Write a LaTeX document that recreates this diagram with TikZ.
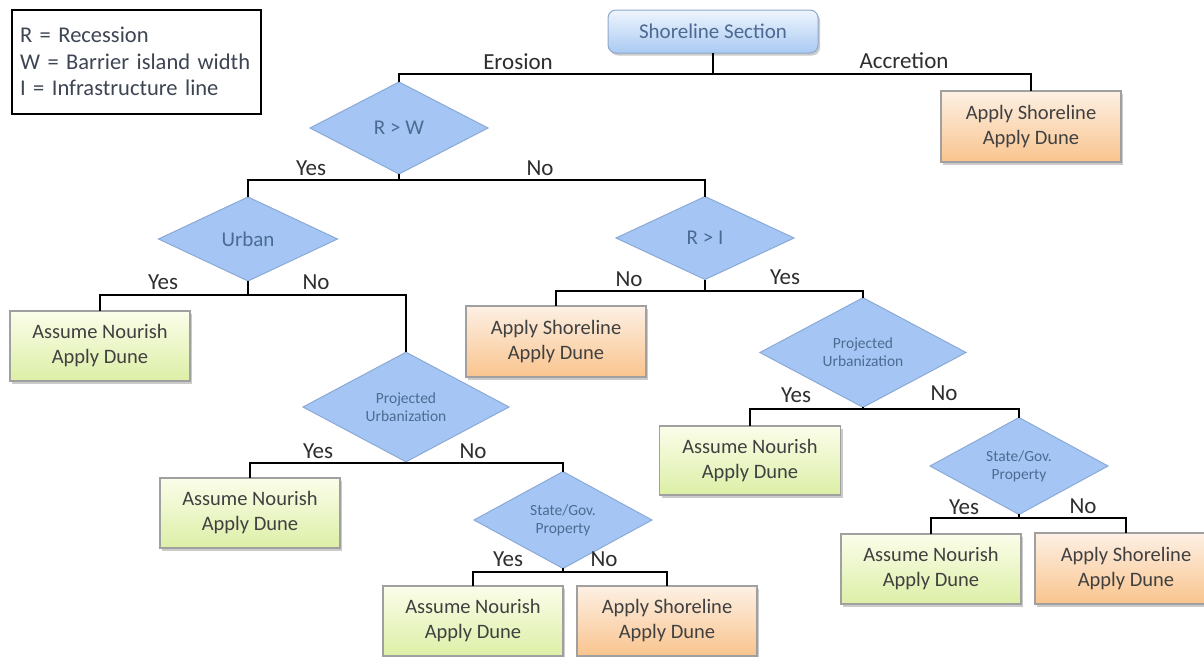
\documentclass[tikz,border=0pt]{standalone}
\usepackage{fontspec}
\setmainfont{Carlito}
\usetikzlibrary{shapes.geometric,shadows}
\definecolor{diafill}{HTML}{A5C6F4}
\definecolor{diaedge}{HTML}{8AA9D6}
\definecolor{diatext}{HTML}{4D6A92}
\definecolor{grtop}{HTML}{FBFDEA}
\definecolor{grbot}{HTML}{DCEFA6}
\definecolor{ortop}{HTML}{FDF0E4}
\definecolor{orbot}{HTML}{F9C48E}
\definecolor{rttop}{HTML}{EEF5FD}
\definecolor{rtbot}{HTML}{AACAF3}
\definecolor{rtedge}{HTML}{8FA8CA}
\definecolor{boxedge}{HTML}{A0A0A0}
\definecolor{boxtext}{HTML}{404040}
\definecolor{lbltext}{HTML}{2E2E2E}
\definecolor{legtext}{HTML}{3D4452}
\begin{document}
\begin{tikzpicture}[x=1pt,y=-1pt,
  conn/.style={draw=black,line width=2pt},
  shad/.style={drop shadow={shadow xshift=2pt,shadow yshift=-2.5pt,fill=black!40,opacity=0.5}},
  dia/.style={diamond,draw=diaedge,fill=diafill,line width=1pt,inner sep=0pt,outer sep=0pt,
    text=diatext,align=center,font=\fontsize{15.5}{18}\selectfont},
  diabig/.style={dia,font=\fontsize{21}{24}\selectfont},
  resbox/.style={rectangle,draw=boxedge,line width=1.5pt,minimum width=180pt,minimum height=70pt,
    align=center,text=boxtext,font=\fontsize{20.5}{25}\selectfont,inner sep=0pt,outer sep=0pt,shad},
  greenbox/.style={resbox,top color=grtop,bottom color=grbot},
  orangebox/.style={resbox,top color=ortop,bottom color=orbot},
  lbl/.style={text=lbltext,font=\fontsize{23}{26}\selectfont,inner sep=0pt}]
\useasboundingbox (0,0) rectangle (1204,656);
\fill[white] (0,0) rectangle (1204,656);

% legend
\node[draw=black,line width=2pt,anchor=north west,minimum width=249pt,minimum height=104pt,
  text width=233pt,align=left,text=legtext,inner xsep=8pt,font=\fontsize{22.5}{26.5}\selectfont]
  (legend) at (11,8.5) {R = Recession\\W = Barrier island width\\I = Infrastructure line};

% root
\node[rectangle,rounded corners=8pt,draw=rtedge,line width=1pt,top color=rttop,bottom color=rtbot,
  minimum width=210pt,minimum height=43pt,inner sep=0pt,outer sep=0pt,text=diatext,
  font=\fontsize{21}{24}\selectfont,shad] (root) at (713,31.5) {Shoreline Section};

\node[orangebox,minimum height=71pt] (acc) at (1031,126.5) {Apply Shoreline\\Apply Dune};

\node[diabig,minimum width=178pt,minimum height=92pt] (RW) at (399,128) {R > W};
\node[diabig,minimum width=179pt,minimum height=84pt] (urban) at (248,239) {Urban};
\node[diabig,minimum width=178pt,minimum height=83pt] (RI) at (705,238) {R > I};

\node[greenbox] (an1) at (100,346) {Assume Nourish\\Apply Dune};
\node[orangebox,minimum height=71pt] (as2) at (556,341.5) {Apply Shoreline\\Apply Dune};

\node[dia,minimum width=206pt,minimum height=92pt] (pu1) at (406,407) {Projected\\Urbanization};
\node[dia,minimum width=206pt,minimum height=89pt] (pu2) at (863,352.5) {Projected\\Urbanization};

\node[greenbox] (an2) at (250,513) {Assume Nourish\\Apply Dune};
\node[dia,minimum width=178pt,minimum height=85pt] (sg1) at (563,520) {State/Gov.\\Property};

\node[greenbox,minimum width=181pt,minimum height=69pt] (an4) at (750,460.5) {Assume Nourish\\Apply Dune};
\node[dia,minimum width=178pt,minimum height=84pt] (sg2) at (1019,466) {State/Gov.\\Property};

\node[greenbox] (an3) at (473,621) {Assume Nourish\\Apply Dune};
\node[orangebox] (as3) at (667,621) {Apply Shoreline\\Apply Dune};

\node[greenbox] (an5) at (931,569) {Assume Nourish\\Apply Dune};
\node[orangebox,minimum width=182pt,minimum height=71pt] (as4) at (1126,568.5) {Apply Shoreline\\Apply Dune};

% connectors
\coordinate (j0) at (713,74);
\coordinate (j1) at (399,180);
\coordinate (j2) at (248,295);
\coordinate (j3) at (705,291);
\coordinate (j4) at (406,463);
\coordinate (j5) at (863,409);
\coordinate (j6) at (563,572);
\coordinate (j7) at (1019,518);

\draw[conn] (root.south) -- (j0);
\draw[conn] (RW.north) |- (j0) -| (acc.north);
\draw[conn] (RW.south) -- (j1);
\draw[conn] (urban.north) |- (j1) -| (RI.north);
\draw[conn] (urban.south) -- (j2);
\draw[conn] (an1.north) |- (j2) -| (pu1.north);
\draw[conn] (RI.south) -- (j3);
\draw[conn] (as2.north) |- (j3) -| (pu2.north);
\draw[conn] (pu1.south) -- (j4);
\draw[conn] (an2.north) |- (j4) -| (sg1.north);
\draw[conn] (pu2.south) -- (j5);
\draw[conn] (an4.north) |- (j5) -| (sg2.north);
\draw[conn] (sg1.south) -- (j6);
\draw[conn] (an3.north) |- (j6) -| (as3.north);
\draw[conn] (sg2.south) -- (j7);
\draw[conn] (an5.north) |- (j7) -| (as4.north);

% labels
\node[lbl] (lero) at (518,62) {Erosion};
\node[lbl] (lacc) at (904,61) {Accretion};
\node[lbl] (l1y) at (311,168) {Yes};
\node[lbl] (l1n) at (540,168) {No};
\node[lbl] (l2y) at (163,282) {Yes};
\node[lbl] (l2n) at (316,282) {No};
\node[lbl] (l3n) at (629,279) {No};
\node[lbl] (l3y) at (785,277) {Yes};
\node[lbl] (l4y) at (796,395) {Yes};
\node[lbl] (l4n) at (944,393) {No};
\node[lbl] (l5y) at (318,451) {Yes};
\node[lbl] (l5n) at (473,451) {No};
\node[lbl] (l6y) at (508,559) {Yes};
\node[lbl] (l6n) at (604,559) {No};
\node[lbl] (l7y) at (964,507) {Yes};
\node[lbl] (l7n) at (1083,506) {No};
\end{tikzpicture}
\end{document}
